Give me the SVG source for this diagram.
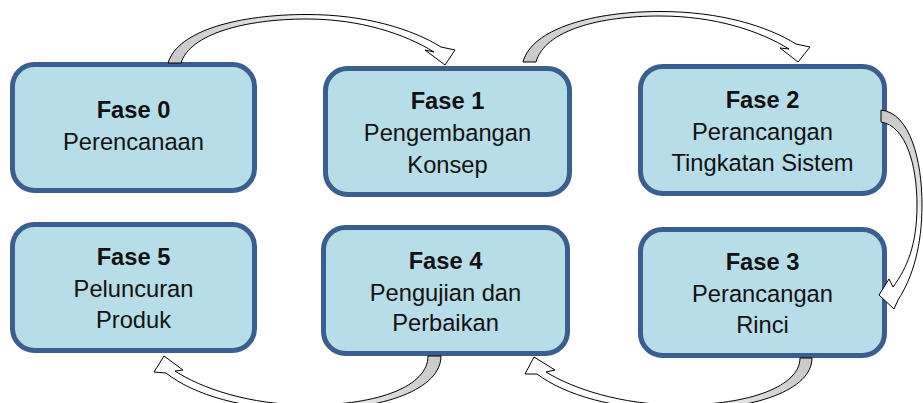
<svg xmlns="http://www.w3.org/2000/svg" width="923" height="403" viewBox="0 0 923 403">
<style>
.box{fill:#B7DDE8;stroke:#3A5E8E;stroke-width:5}
.t{font-family:"Liberation Sans",Arial,sans-serif;font-size:23.7px;fill:#111;text-anchor:middle}
.b{font-weight:bold}
.arr{stroke:#000;stroke-width:1;stroke-linejoin:miter}
</style>
<defs>
<linearGradient id="g1" gradientUnits="userSpaceOnUse" x1="168" y1="0" x2="330" y2="0"><stop offset="0" stop-color="#C8C8C8"/><stop offset="0.7" stop-color="#E4E4E4"/><stop offset="1" stop-color="#FFFFFF"/></linearGradient>
<linearGradient id="g2" gradientUnits="userSpaceOnUse" x1="523" y1="0" x2="685" y2="0"><stop offset="0" stop-color="#C8C8C8"/><stop offset="0.7" stop-color="#E4E4E4"/><stop offset="1" stop-color="#FFFFFF"/></linearGradient>
<linearGradient id="g3" gradientUnits="userSpaceOnUse" x1="0" y1="110" x2="0" y2="230"><stop offset="0" stop-color="#C8C8C8"/><stop offset="0.7" stop-color="#E4E4E4"/><stop offset="1" stop-color="#FFFFFF"/></linearGradient>
<linearGradient id="g4" gradientUnits="userSpaceOnUse" x1="812" y1="0" x2="700" y2="0"><stop offset="0" stop-color="#C8C8C8"/><stop offset="0.7" stop-color="#E4E4E4"/><stop offset="1" stop-color="#FFFFFF"/></linearGradient>
<linearGradient id="g5" gradientUnits="userSpaceOnUse" x1="441" y1="0" x2="329" y2="0"><stop offset="0" stop-color="#C8C8C8"/><stop offset="0.7" stop-color="#E4E4E4"/><stop offset="1" stop-color="#FFFFFF"/></linearGradient>
</defs>
<g id="fase0"><rect class="box" x="12.5" y="64.5" width="242" height="126" rx="22"/><text class="t b" x="133.5" y="118.3">Fase 0</text><text class="t" x="133.5" y="150">Perencanaan</text></g>
<g id="fase1"><rect class="box" x="325.5" y="68.5" width="244" height="126" rx="22"/><text class="t b" x="447.5" y="109.3">Fase 1</text><text class="t" x="447.5" y="141">Pengembangan</text><text class="t" x="447.5" y="172.7">Konsep</text></g>
<g id="fase2"><rect class="box" x="640.5" y="66.5" width="244" height="127" rx="22"/><text class="t b" x="762.5" y="108">Fase 2</text><text class="t" x="762.5" y="139.7">Perancangan</text><text class="t" x="762.5" y="170.7">Tingkatan Sistem</text></g>
<g id="fase3"><rect class="box" x="640.5" y="229.5" width="244" height="126" rx="22"/><text class="t b" x="762.5" y="270">Fase 3</text><text class="t" x="762.5" y="301.7">Perancangan</text><text class="t" x="762.5" y="333">Rinci</text></g>
<g id="fase4"><rect class="box" x="323.5" y="227.5" width="244" height="126" rx="22"/><text class="t b" x="445.5" y="268.7">Fase 4</text><text class="t" x="445.5" y="300.7">Pengujian dan</text><text class="t" x="445.5" y="331.3">Perbaikan</text></g>
<g id="fase5"><rect class="box" x="12.5" y="224.5" width="242" height="126" rx="22"/><text class="t b" x="133.5" y="265">Fase 5</text><text class="t" x="133.5" y="296.7">Peluncuran</text><text class="t" x="133.5" y="328.3">Produk</text></g>
<g id="connectors">
<path class="arr" fill="url(#g1)" d="M168,63 C178,30 240,14.5 307,14.5 C365,14.5 412,29 441,47 L455,50 L445,65 L425,50 L434,52 C405,34 360,19 307,19 C245,19 190,34 181,63 Z"/>
<path class="arr" fill="url(#g2)" d="M523,62 C532,28 595,11.5 660,11.5 C720,11.5 767,26 796,44 L810,47 L798,62 L780,48 L789,49 C760,31 715,16 660,16 C600,16 545,30 536,62 Z"/>
<path class="arr" fill="url(#g3)" d="M881,110 C910,113 922,160 922,205 C922,245 913,277 898,300 L894,309 L879,295 L889,279 L893,287 C907,268 917,245 917,205 C917,165 906,126 881,122 Z"/>
<path class="arr" fill="url(#g4)" d="M812,358 C812,390 755,410 680,410 C615,410 565,395 537,374 L525,374 L534,357 L555,370 L546,372 C572,388 620,405 680,405 C750,405 800,386 800,358 Z"/>
<path class="arr" fill="url(#g5)" d="M441,356 C441,389 384,410 309,410 C244,410 194,395 166,373 L154,372 L164,356 L183,370 L175,371 C201,388 249,405 309,405 C379,405 428,386 428,356 Z"/>
</g>
</svg>
